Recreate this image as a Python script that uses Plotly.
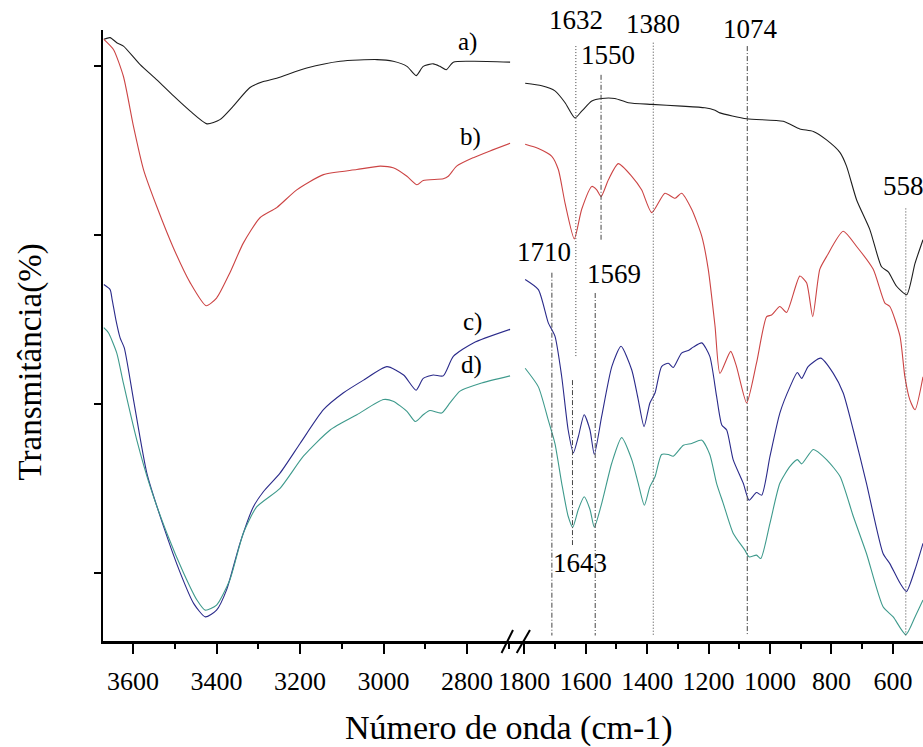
import plotly.graph_objects as go

# ---------------- data (wavenumber cm-1, transmittance arbitrary units) ----------------
# high-wavenumber window (3670-2700)
a_hi_x = [3670, 3655, 3639, 3623, 3583, 3543, 3503, 3463, 3423, 3392, 3360, 3320, 3288, 3256, 3184,
          3104, 3016, 2977, 2944, 2922, 2905, 2881, 2865, 2850, 2833, 2785, 2697]
a_hi_y = [83.1, 83.3, 82.7, 82.3, 80.1, 78.3, 76.4, 74.6, 73.1, 73.6, 75.2, 77.4, 78.1, 78.5, 79.7,
          80.5, 80.7, 80.5, 79.9, 78.8, 79.9, 80.2, 79.9, 79.5, 80.4, 80.5, 80.4]

b_hi_x = [3670, 3647, 3623, 3599, 3575, 3543, 3503, 3463, 3425, 3400, 3368, 3336, 3296, 3256, 3208,
          3144, 3064, 3008, 2977, 2944, 2920, 2905, 2857, 2845, 2825, 2785, 2745, 2697]
b_hi_y = [83.1, 81.9, 78.7, 72.8, 67.7, 63.3, 58.4, 54.3, 51.6, 52.5, 55.5, 59.0, 62.0, 63.2, 65.3,
          67.1, 67.7, 68.1, 67.9, 66.9, 65.9, 66.4, 66.6, 66.9, 68.1, 69.1, 69.9, 70.8]

c_hi_x = [3670, 3655, 3650, 3641, 3631, 3621, 3599, 3567, 3527, 3487, 3455, 3427, 3400, 3376, 3344,
          3312, 3288, 3248, 3200, 3144, 3096, 3048, 2992, 2952, 2922, 2905, 2881, 2857, 2833, 2785, 2697]
c_hi_y = [54.1, 53.5, 52.3, 49.9, 47.8, 46.6, 40.5, 31.8, 25.5, 20.0, 16.4, 14.8, 15.6, 18.0, 23.5,
          27.8, 29.6, 31.8, 35.3, 39.3, 41.3, 42.8, 44.4, 43.4, 41.6, 43.0, 43.4, 43.3, 45.6, 47.2, 48.8]

d_hi_x = [3670, 3659, 3639, 3623, 3591, 3559, 3519, 3479, 3447, 3427, 3400, 3368, 3336, 3304, 3248,
          3192, 3128, 3064, 3000, 2977, 2944, 2924, 2905, 2889, 2861, 2841, 2817, 2769, 2697]
d_hi_y = [49.0, 48.4, 46.0, 42.4, 35.7, 30.2, 24.7, 20.0, 16.8, 15.6, 16.2, 19.2, 24.7, 27.8, 30.0,
          33.8, 36.9, 38.7, 40.5, 40.3, 39.1, 37.9, 38.7, 39.2, 38.9, 40.1, 41.5, 42.4, 43.3]

# low-wavenumber window (1800-500)
a_lo_x = [1797, 1743, 1700, 1667, 1635, 1613, 1580, 1548, 1505, 1461, 1385, 1288, 1212, 1179, 1163,
          1076, 957, 903, 859, 816, 772, 751, 718, 675, 637, 615, 588, 555, 528, 502]
a_lo_y = [77.9, 77.6, 77.0, 75.6, 73.8, 74.6, 75.8, 76.1, 76.1, 75.6, 75.4, 75.2, 75.0, 74.7, 74.4,
          73.7, 73.4, 72.5, 72.2, 71.2, 69.7, 68.1, 64.1, 60.6, 56.2, 55.6, 53.9, 52.9, 56.6, 59.4]

b_lo_x = [1797, 1754, 1711, 1689, 1667, 1637, 1613, 1580, 1564, 1550, 1526, 1494, 1450, 1418, 1385,
          1342, 1309, 1288, 1255, 1222, 1201, 1179, 1163, 1128, 1109, 1076, 1044, 1011, 995, 968,
          946, 903, 881, 861, 838, 816, 762, 718, 664, 626, 610, 577, 561, 545, 528, 502]
b_lo_y = [70.7, 70.2, 69.3, 67.7, 63.7, 59.5, 63.0, 65.7, 65.3, 64.5, 66.5, 68.4, 66.9, 65.3, 62.6,
          64.9, 64.3, 64.9, 63.0, 59.8, 55.9, 49.2, 43.6, 46.2, 44.4, 40.1, 44.8, 50.3, 50.5, 51.5,
          50.8, 55.1, 54.3, 50.3, 55.9, 57.4, 60.4, 58.6, 55.9, 51.9, 51.5, 48.0, 43.2, 40.5, 39.3, 43.2]

c_lo_x = [1797, 1754, 1722, 1700, 1678, 1657, 1640, 1624, 1605, 1586, 1572, 1548, 1515, 1485, 1450,
          1429, 1410, 1391, 1374, 1353, 1331, 1315, 1288, 1266, 1250, 1222, 1196, 1174, 1157, 1141,
          1120, 1087, 1068, 1044, 1027, 1000, 968, 935, 911, 897, 876, 835, 794, 762, 729, 686,
          632, 610, 577, 556, 528, 502]
c_lo_y = [54.7, 53.5, 49.6, 48.0, 43.2, 36.9, 34.2, 36.1, 38.7, 36.9, 34.0, 38.5, 44.4, 46.8, 44.0,
          40.5, 37.3, 40.1, 41.3, 44.4, 44.8, 44.3, 46.0, 46.3, 46.7, 47.2, 45.6, 40.9, 37.5, 36.9,
          33.4, 30.6, 28.6, 29.5, 29.2, 33.8, 38.9, 42.0, 43.7, 43.0, 44.4, 45.4, 43.6, 41.3, 36.9, 30.6,
          22.3, 21.1, 18.8, 17.8, 20.4, 23.5]

d_lo_x = [1797, 1754, 1722, 1700, 1678, 1657, 1642, 1624, 1605, 1586, 1572, 1548, 1515, 1483, 1450,
          1429, 1409, 1391, 1374, 1353, 1331, 1315, 1282, 1255, 1222, 1196, 1174, 1152, 1120, 1082,
          1068, 1044, 1030, 1000, 968, 935, 911, 897, 859, 816, 772, 729, 686, 632, 599, 558, 528, 502]
d_lo_y = [44.2, 42.0, 38.1, 35.3, 30.6, 26.7, 25.4, 27.5, 29.0, 27.5, 25.4, 28.2, 33.0, 36.0, 33.4,
          30.6, 28.0, 30.2, 31.4, 34.0, 34.0, 33.8, 35.1, 35.3, 35.7, 34.0, 30.6, 28.2, 24.7, 22.7,
          21.9, 22.1, 21.7, 25.9, 30.6, 32.6, 33.4, 32.9, 34.6, 33.4, 31.4, 26.7, 22.3, 16.0, 14.8, 12.7, 14.8, 16.8]

series_names = ["a)", "b)", "c)", "d)"]
series_colors = ["#1e1e1e", "#cc4444", "#2a2a8a", "#3e9a8c"]
label_x = [2799, 2793, 2788, 2790]
label_y = [82.8, 71.5, 49.7, 44.6]

# marked bands
band_pos = [1710, 1632, 1643, 1550, 1569, 1380, 1074, 558]
band_top = [55.5, 82.3, 42.8, 78.9, 53.1, 82.7, 82.3, 63.1]
band_bot = [12.6, 45.6, 23.3, 59.4, 12.6, 12.6, 12.6, 12.5]
band_dash = ["5px,2px,1px,2px", "1px,2px", "5px,2px,1px,2px", "5px,2px,1px,2px",
             "5px,2px,1px,2px", "1px,2px", "5px,2px,1px,2px", "1px,2px"]
band_lbl_x = [1736, 1632, 1618, 1527, 1508, 1381, 1065, 567]
band_lbl_y = [58.0, 85.4, 21.2, 81.3, 55.4, 84.9, 84.3, 65.7]

x_hi_ticks = [3600, 3400, 3200, 3000, 2800]
x_lo_ticks = [1800, 1600, 1400, 1200, 1000, 800, 600]
y_ticks = [20, 40, 60, 80]
Y_MIN, Y_MAX = 11.95, 84.2

FONT = "'Liberation Serif', 'Times New Roman', Times, 'DejaVu Serif', serif"

fig = go.Figure()
hi = [(a_hi_x, a_hi_y), (b_hi_x, b_hi_y), (c_hi_x, c_hi_y), (d_hi_x, d_hi_y)]
lo = [(a_lo_x, a_lo_y), (b_lo_x, b_lo_y), (c_lo_x, c_lo_y), (d_lo_x, d_lo_y)]

for i in range(4):
    fig.add_trace(go.Scatter(x=hi[i][0], y=hi[i][1], mode="lines", xaxis="x", yaxis="y",
                             line=dict(color=series_colors[i], width=1.1, shape="spline", smoothing=0.6),
                             name=series_names[i], showlegend=False, hoverinfo="skip"))
    fig.add_trace(go.Scatter(x=lo[i][0], y=lo[i][1], mode="lines", xaxis="x2", yaxis="y",
                             line=dict(color=series_colors[i], width=1.1, shape="spline", smoothing=0.6),
                             name=series_names[i], showlegend=False, hoverinfo="skip"))

for p, t, b, d in zip(band_pos, band_top, band_bot, band_dash):
    fig.add_trace(go.Scatter(x=[p, p], y=[t, b], mode="lines", xaxis="x2", yaxis="y",
                             line=dict(color="#444444", width=1, dash=d),
                             showlegend=False, hoverinfo="skip"))


def yfrac(t):
    return (t - Y_MIN) / (Y_MAX - Y_MIN)


annotations = []
for n, x, y in zip(series_names, label_x, label_y):
    annotations.append(dict(x=x, y=yfrac(y), xref="x", yref="paper", text=n, showarrow=False,
                            xanchor="center", yanchor="middle",
                            font=dict(family=FONT, size=25, color="black")))
for p, x, y in zip(band_pos, band_lbl_x, band_lbl_y):
    annotations.append(dict(x=x, y=yfrac(y), xref="x2", yref="paper", text=str(p), showarrow=False,
                            xanchor="center", yanchor="middle",
                            font=dict(family=FONT, size=27, color="black")))
annotations.append(dict(x=0.495, y=-0.1424, xref="paper", yref="paper", text="Número de onda (cm-1)",
                        showarrow=False, yanchor="middle", xanchor="center",
                        font=dict(family=FONT, size=34, color="black")))
annotations.append(dict(x=-0.089, y=0.456, xref="paper", yref="paper", text="Transmitância(%)",
                        showarrow=False, textangle=-90, xanchor="center", yanchor="middle",
                        font=dict(family=FONT, size=33, color="black")))

shapes = [
    dict(type="line", xref="paper", yref="paper", x0=0.486, y0=-0.0196, x1=0.500, y1=0.018,
         line=dict(color="black", width=2)),
    dict(type="line", xref="paper", yref="paper", x0=0.5045, y0=-0.0196, x1=0.5207, y1=0.018,
         line=dict(color="black", width=2)),
]

common_x = dict(showgrid=False, zeroline=False, showline=True, linecolor="black", linewidth=2.5,
                ticks="outside", ticklen=10, tickwidth=2, tickcolor="black",
                tickfont=dict(family=FONT, size=26, color="black"), ticklabelstandoff=5,
                minor=dict(ticks="outside", ticklen=5, tickwidth=2, tickcolor="black", dtick=100),
                anchor="y")

fig.update_layout(
    width=923, height=747,
    margin=dict(l=103, r=0, t=30, b=106),
    paper_bgcolor="white", plot_bgcolor="white",
    font=dict(family=FONT),
    xaxis=dict(domain=[0, 0.5], range=[3672, 2690], tickvals=x_hi_ticks,
               ticktext=[str(v) for v in x_hi_ticks], **common_x),
    xaxis2=dict(domain=[0.5, 1.0], range=[1836.6, 502], tickvals=x_lo_ticks,
                ticktext=[str(v) for v in x_lo_ticks], **common_x),
    yaxis=dict(range=[Y_MIN, Y_MAX], tickvals=y_ticks, showticklabels=False, showgrid=False,
               zeroline=False, showline=True, linecolor="black", linewidth=1.5,
               ticks="outside", ticklen=7, tickwidth=2, tickcolor="black"),
    annotations=annotations,
    shapes=shapes,
)

fig.write_html("out.html", config={"displayModeBar": False},
               post_script="document.body.style.margin='0';document.body.style.overflow='hidden';")
